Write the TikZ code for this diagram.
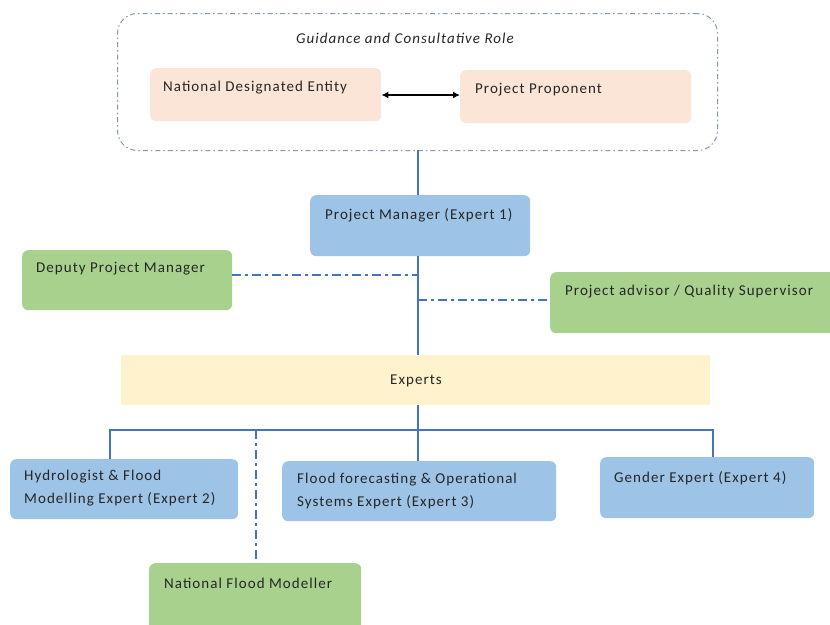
\documentclass[tikz,border=0pt]{standalone}
\usepackage{fontspec}
\setmainfont{Carlito}
\newfontfamily\lbfont[LetterSpace=7]{Carlito}
\usetikzlibrary{arrows.meta}
\definecolor{peach}{HTML}{FBE5D6}
\definecolor{lblue}{HTML}{9DC3E6}
\definecolor{lgreen}{HTML}{A9D18E}
\definecolor{lyellow}{HTML}{FFF2CC}
\definecolor{linec}{HTML}{4472C4}
\definecolor{framec}{HTML}{8497B0}
\definecolor{txt}{HTML}{262626}
\tikzset{
  boxbase/.style={draw=none, rounded corners=6pt, inner sep=0pt, anchor=north west},
  peachbox/.style={boxbase, fill=peach},
  bluebox/.style={boxbase, fill=lblue},
  greenbox/.style={boxbase, fill=lgreen},
  lbl/.style={anchor=west, inner sep=0pt, font=\lbfont\fontsize{15}{18}\selectfont, text=txt},
  solidline/.style={draw=linec, line width=1.8pt},
  ddline/.style={draw=linec, line width=1.8pt, dash pattern=on 9pt off 4pt on 3pt off 4pt},
}
\begin{document}
\begin{tikzpicture}[x=1pt,y=-1pt]
\useasboundingbox (0,0) rectangle (830,624);
\clip (0,0) rectangle (830,624);
% outer frame
\node[draw=framec, line width=1pt, dash pattern=on 5pt off 3pt on 1.5pt off 3pt, rounded corners=20pt,
  minimum width=600pt, minimum height=137pt, inner sep=0pt, anchor=north west] (frame) at (117,13) {};
\node[lbl, anchor=center, font=\lbfont\fontsize{15}{18}\selectfont\itshape] (guid) at (405,38) {Guidance and Consultative Role};
% top boxes
\node[peachbox, minimum width=231pt, minimum height=53pt] (nde) at (150,68) {};
\node[lbl] (ndet) at (163,88) {National Designated Entity};
\node[peachbox, minimum width=231pt, minimum height=53pt] (pp) at (460,70) {};
\node[lbl] (ppt) at (475,90) {Project Proponent};
\draw[line width=1.8pt, {Latex[length=7pt,width=7pt]}-{Latex[length=7pt,width=7pt]}] (nde.east|-0,95) -- (pp.west|-0,95);
% project manager
\node[bluebox, minimum width=220pt, minimum height=61pt] (pm) at (310,195) {};
\node[lbl] (pmt) at (325,215) {Project Manager (Expert 1)};
\draw[solidline] (418,150) -- (pm.north-|418,0);
% deputy and advisor
\node[greenbox, minimum width=210pt, minimum height=60pt] (dpm) at (22,250) {};
\node[lbl] (dpmt) at (36,269) {Deputy Project Manager};
\node[greenbox, minimum width=290pt, minimum height=61pt] (pa) at (550,272) {};
\node[lbl] (pat) at (565,292) {Project advisor / Quality Supervisor};
% experts
\node[draw=none, fill=lyellow, minimum width=589pt, minimum height=50pt, inner sep=0pt, anchor=north west] (exp) at (121,355) {};
\node[lbl, anchor=center] (expt) at (416,381) {Experts};
\coordinate (j1) at (418,275);
\coordinate (j2) at (418,300);
\draw[solidline] (pm.south-|418,0) -- (exp.north-|418,0);
\draw[ddline] (dpm.east|-j1) -- (j1);
\draw[ddline] (j2) -- (pa.west|-j2);
% expert boxes
\node[bluebox, minimum width=228pt, minimum height=60pt] (hyd) at (10,459) {};
\node[lbl] (hydt1) at (24,477) {Hydrologist \& Flood};
\node[lbl] (hydt2) at (24,499) {Modelling Expert (Expert 2)};
\node[bluebox, minimum width=274pt, minimum height=60pt] (ffo) at (282,461) {};
\node[lbl] (ffot1) at (297,480) {Flood forecasting \& Operational};
\node[lbl] (ffot2) at (297,502) {Systems Expert (Expert 3)};
\node[bluebox, minimum width=214pt, minimum height=61pt] (gen) at (600,457) {};
\node[lbl] (gent) at (614,478) {Gender Expert (Expert 4)};
\node[greenbox, minimum width=212pt, minimum height=70pt] (nfm) at (149,563) {};
\node[lbl] (nfmt) at (164,583) {National Flood Modeller};
% tree
\coordinate (bar) at (418,430);
\draw[solidline] (exp.south-|418,0) -- (bar);
\draw[solidline] (hyd.north-|110,0) -- (110,430) -- (713,430) -- (gen.north-|713,0);
\draw[solidline] (bar) -- (ffo.north-|418,0);
\draw[ddline] (256,430) -- (nfm.north-|256,0);
\end{tikzpicture}
\end{document}
